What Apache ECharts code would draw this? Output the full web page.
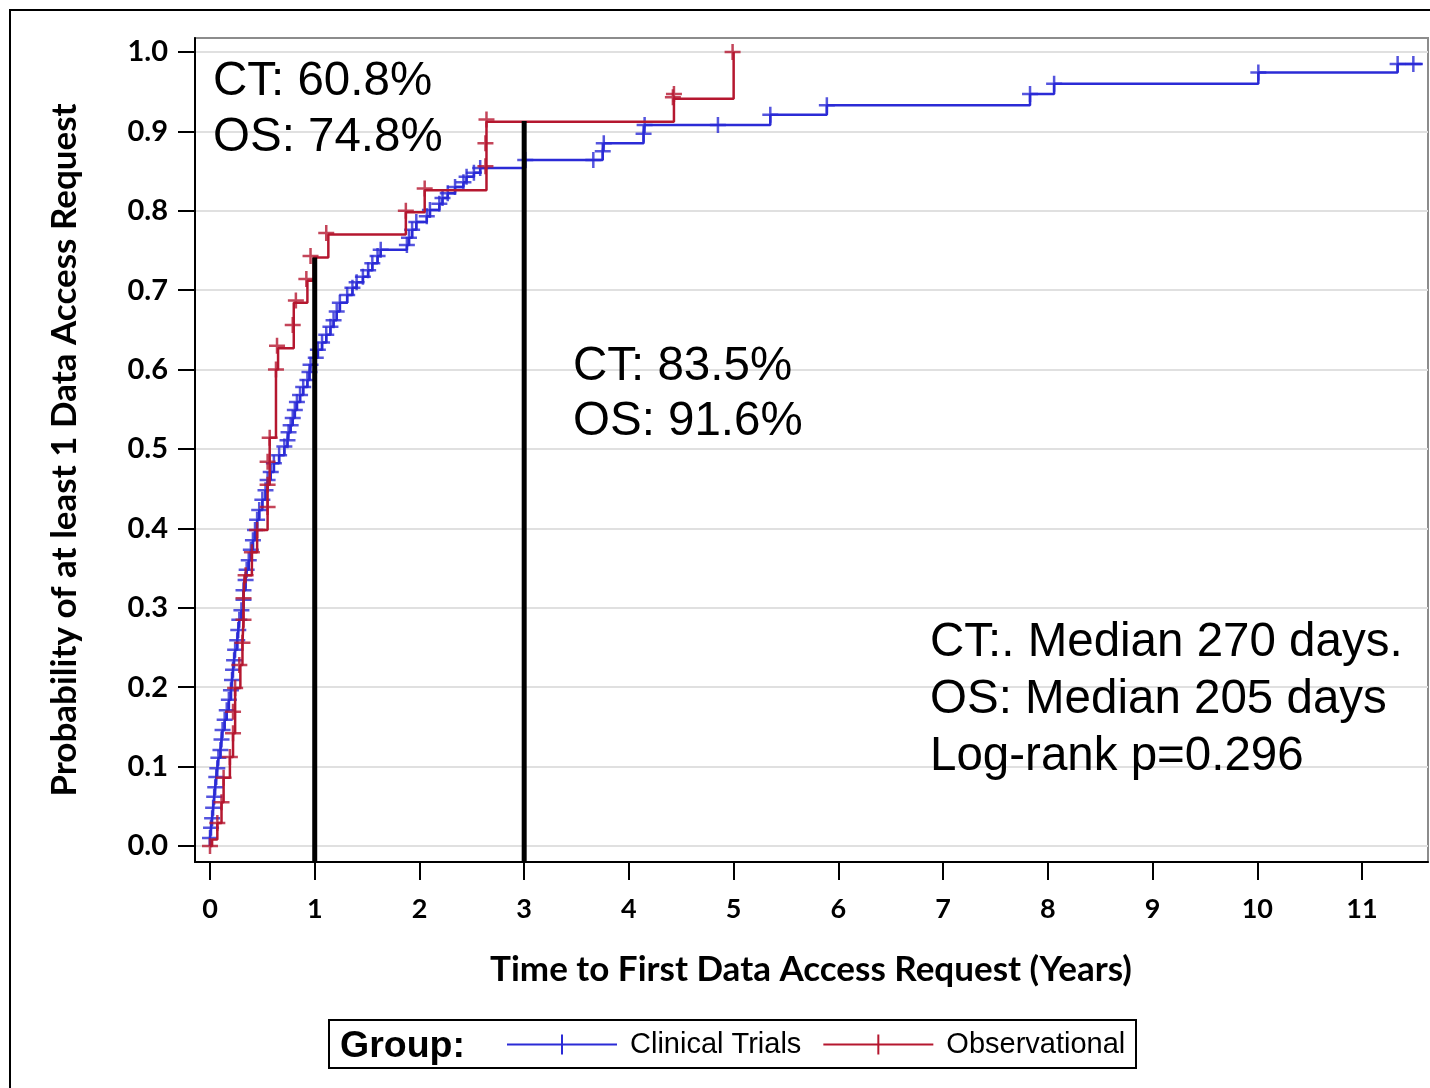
<!DOCTYPE html>
<html><head><meta charset="utf-8">
<script src="https://cdn.jsdelivr.net/npm/echarts@6/dist/echarts.min.js"></script>
<style>html,body{margin:0;padding:0;background:#fff}#c{width:1430px;height:1088px}</style>
</head><body><div id="c"></div>
<script>
// Tick labels
const xTickValues = [0,1,2,3,4,5,6,7,8,9,10,11];
const yTickValues = [0.0,0.1,0.2,0.3,0.4,0.5,0.6,0.7,0.8,0.9,1.0];

// Clinical Trials: cumulative probability step points (years, probability)
const ctTime = [0.00,0.00,0.01,0.02,0.03,0.04,0.05,0.06,0.07,0.08,0.10,0.11,0.12,0.14,0.16,0.18,0.20,0.21,0.22,0.23,0.24,0.26,0.27,0.28,0.30,0.32,0.32,0.34,0.35,0.37,0.39,0.41,0.43,0.45,0.47,0.50,0.53,0.55,0.58,0.61,0.66,0.71,0.74,0.75,0.77,0.79,0.81,0.83,0.86,0.89,0.93,0.95,0.96,1.01,1.03,1.07,1.11,1.15,1.18,1.21,1.24,1.31,1.36,1.40,1.46,1.51,1.55,1.60,1.63,1.88,1.90,1.93,1.97,2.07,2.10,2.19,2.22,2.27,2.34,2.42,2.45,2.52,2.58,3.01,3.75,3.76,4.14,4.15,5.35,5.89,7.83,8.06,10.01,11.34,11.58];
const ctProb = [0.000,0.010,0.023,0.035,0.048,0.062,0.074,0.087,0.098,0.111,0.121,0.134,0.146,0.159,0.171,0.184,0.196,0.209,0.222,0.234,0.247,0.259,0.272,0.285,0.297,0.310,0.322,0.335,0.348,0.360,0.373,0.385,0.398,0.411,0.423,0.436,0.448,0.461,0.471,0.482,0.492,0.503,0.511,0.521,0.530,0.539,0.549,0.559,0.568,0.578,0.587,0.597,0.606,0.615,0.625,0.634,0.644,0.654,0.662,0.673,0.684,0.694,0.703,0.710,0.717,0.725,0.734,0.743,0.751,0.757,0.766,0.776,0.786,0.793,0.801,0.809,0.816,0.822,0.830,0.836,0.843,0.848,0.854,0.864,0.875,0.885,0.897,0.908,0.921,0.933,0.947,0.960,0.974,0.985,0.985];
// Clinical Trials censor marks not at a step
const ctExtraCensorTime = [3.66,4.85,11.49];
const ctExtraCensorProb = [0.864,0.908,0.985];

// Observational: cumulative probability step points
const osTime = [0.00,0.02,0.07,0.11,0.13,0.19,0.22,0.24,0.24,0.29,0.31,0.32,0.32,0.33,0.40,0.45,0.55,0.55,0.57,0.57,0.63,0.65,0.80,0.80,0.93,0.99,1.13,1.87,2.05,2.64,2.64,2.64,4.43,5.00];
const osProb = [0.000,0.008,0.029,0.055,0.086,0.112,0.142,0.169,0.199,0.228,0.256,0.285,0.312,0.341,0.370,0.398,0.427,0.455,0.484,0.514,0.600,0.627,0.656,0.684,0.712,0.741,0.770,0.798,0.826,0.854,0.885,0.912,0.941,1.000];
// Observational censor marks
const osCensorTime = [0.00,0.07,0.11,0.13,0.19,0.22,0.22,0.24,0.28,0.31,0.32,0.32,0.34,0.40,0.45,0.55,0.55,0.55,0.57,0.63,0.64,0.79,0.82,0.92,0.96,1.11,1.87,2.05,2.63,2.63,2.64,4.42,4.43,4.99];
const osCensorProb = [0.000,0.029,0.055,0.086,0.112,0.142,0.169,0.199,0.228,0.256,0.285,0.312,0.341,0.370,0.398,0.427,0.455,0.484,0.514,0.600,0.630,0.656,0.687,0.714,0.743,0.772,0.800,0.828,0.856,0.885,0.915,0.943,0.947,1.000];

// Reference lines at 1 and 3 years
const refTime = [1, 3];
const refTop = [0.741, 0.913];

const annotTopLeft = ['CT: 60.8%', 'OS: 74.8%'];
const annotMiddle = ['CT: 83.5%', 'OS: 91.6%'];
const annotRight = ['CT:. Median 270 days.', 'OS: Median 205 days', 'Log-rank p=0.296'];

const BLUE = '#2b2bd6', RED = '#b5172f';
const PLUS = 'path://M0,6.75H16V9.25H0Z M6.75,0H9.25V16H6.75Z';
const LEG_ICON = 'path://M0,9H110V11H0Z M54,0H56V20H54Z';
const LABEL_FONT = 'Lato';

const zip = (a, b) => a.map((v, i) => [v, b[i]]);
const ctCensor = zip(ctTime.slice(1, -1), ctProb.slice(1, -1)).concat(zip(ctExtraCensorTime, ctExtraCensorProb));

const refSeries = refTime.map((t, i) => ({
  type: 'line', name: 'ref' + i, data: [[t, -0.0202], [t, refTop[i]]],
  showSymbol: false, symbol: 'none', silent: true, z: 5,
  lineStyle: { color: '#000', width: 5 }
}));

const textEl = (txt, x, y, extra) => ({
  type: 'text', left: x, top: y, z: 100,
  style: Object.assign({ text: txt, fill: '#000', font: '47.5px "Liberation Sans", Arial, sans-serif', textVerticalAlign: 'middle' }, extra || {})
});

const chart = echarts.init(document.getElementById('c'), null, { renderer: 'canvas' });
chart.setOption({
  animation: false,
  backgroundColor: '#fff',
  grid: { left: 195, right: 2, top: 38, bottom: 226, show: true, borderColor: '#8c8c8c', borderWidth: 2, containLabel: false },
  xAxis: {
    type: 'value', min: -0.1432, max: 11.63,
    axisLine: { onZero: false, lineStyle: { color: '#000', width: 2 } },
    axisTick: { customValues: xTickValues, length: 18, lineStyle: { color: '#000', width: 2 } },
    axisLabel: { customValues: xTickValues, margin: 34, color: '#000', fontFamily: LABEL_FONT, fontWeight: 'bold', fontSize: 27 },
    splitLine: { show: false }
  },
  yAxis: {
    type: 'value', min: -0.0202, max: 1.0176,
    axisLine: { onZero: false, lineStyle: { color: '#000', width: 2 } },
    axisTick: { customValues: yTickValues, length: 17, lineStyle: { color: '#000', width: 2 } },
    axisLabel: { customValues: yTickValues, margin: 27, color: '#000', fontFamily: LABEL_FONT, fontWeight: 'bold', fontSize: 29, formatter: v => v.toFixed(1) },
    splitLine: { show: true, lineStyle: { color: '#e0e0e0', width: 2 } }
  },
  legend: {
    data: ['Clinical Trials', 'Observational'],
    left: 507, top: 1030, padding: 0, itemWidth: 110, itemHeight: 20, itemGap: 22,
    icon: LEG_ICON,
    textStyle: { color: '#000', fontFamily: '"Liberation Sans", Arial, sans-serif', fontSize: 29, padding: [0, 0, 0, 8] },
    selectedMode: false
  },
  series: [
    { type: 'line', name: 'Clinical Trials', step: 'end', data: zip(ctTime, ctProb), showSymbol: false, symbol: 'none',
      color: BLUE, lineStyle: { color: BLUE, width: 2.5 }, z: 2 },
    { type: 'line', name: 'Observational', step: 'end', data: zip(osTime, osProb), showSymbol: false, symbol: 'none',
      color: RED, lineStyle: { color: RED, width: 2.5 }, z: 3 },
    { type: 'scatter', name: 'ctCensor', data: ctCensor, symbol: PLUS, symbolSize: 16, itemStyle: { color: BLUE }, z: 2 },
    { type: 'scatter', name: 'osCensor', data: zip(osCensorTime, osCensorProb), symbol: PLUS, symbolSize: 16, itemStyle: { color: RED }, z: 3 }
  ].concat(refSeries),
  graphic: [
    { type: 'rect', shape: { x: 10, y: 10, width: 1440, height: 1100 }, style: { fill: null, stroke: '#000', lineWidth: 2 }, silent: true },
    textEl(annotTopLeft[0], 213, 82 - 24), textEl(annotTopLeft[1], 213, 138 - 24),
    textEl(annotMiddle[0], 573, 367 - 24), textEl(annotMiddle[1], 573, 422 - 24),
    textEl(annotRight[0], 930, 643 - 24), textEl(annotRight[1], 930, 700 - 24), textEl(annotRight[2], 930, 757 - 24),
    { type: 'text', x: 811, y: 970, z: 100, style: { text: 'Time to First Data Access Request (Years)', fill: '#000', font: 'bold 35px Lato', textAlign: 'center', textVerticalAlign: 'middle' } },
    { type: 'text', x: 65, y: 450, z: 100, rotation: Math.PI / 2, style: { text: 'Probability of at least 1 Data Access Request', fill: '#000', font: 'bold 35px Lato', textAlign: 'center', textVerticalAlign: 'middle' } },
    { type: 'rect', shape: { x: 329, y: 1020, width: 807, height: 48 }, style: { fill: null, stroke: '#000', lineWidth: 2 }, silent: true },
    { type: 'text', left: 340, top: 1045 - 17, z: 100, style: { text: 'Group:', fill: '#000', font: 'bold 37.5px "Liberation Sans", Arial, sans-serif' } }
  ]
});
</script></body></html>
